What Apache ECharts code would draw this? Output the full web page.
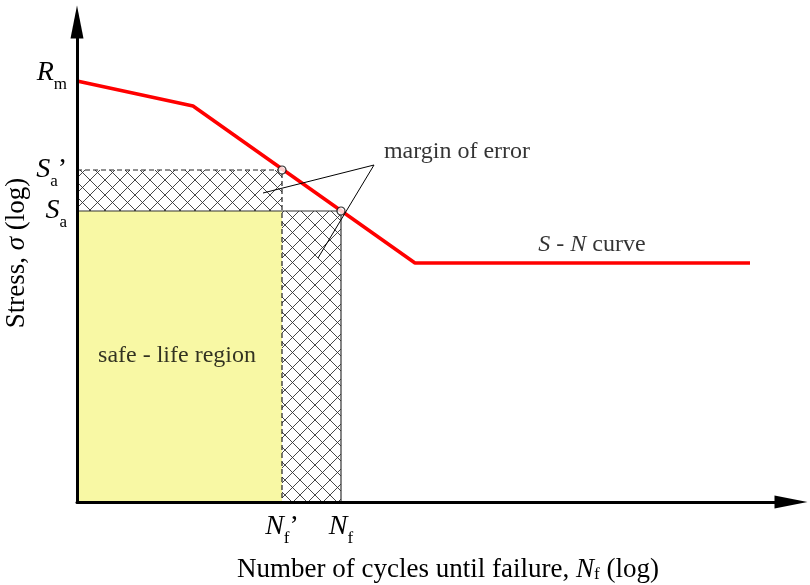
<!DOCTYPE html>
<html>
<head>
<meta charset="utf-8">
<script src="https://cdn.jsdelivr.net/npm/echarts@6/dist/echarts.min.js"></script>
<style>
  html, body { margin: 0; padding: 0; background: #fff; }
  #chart { width: 810px; height: 585px; }
</style>
</head>
<body>
<div id="chart"></div>
<script>
// schematic units, origin at the corner of the axes (log N, log S)
var curveX = [0, 116, 338, 673];
var curveY = [421, 396, 239, 239];
var rm = 421;
var saPrime = 332, sa = 291;
var nfPrime = 205, nf = 264;
var leaderX = [186, 297, 241];
var leaderY = [309, 337, 244];
var noteText = ['margin of error', '{i|S} - {i|N} curve', 'safe - life region'];
var noteX = [380, 515, 100];
var noteY = [350, 257, 146];

var serif = 'Liberation Serif';
var chart = echarts.init(document.getElementById('chart'));

// cross hatch tile
var hatch = document.createElement('canvas');
hatch.width = hatch.height = 15;
var hc = hatch.getContext('2d');
hc.fillStyle = '#fff';
hc.fillRect(0, 0, 15, 15);
hc.strokeStyle = '#333';
hc.lineWidth = 0.9;
hc.beginPath();
hc.moveTo(-1, -1); hc.lineTo(16, 16);
hc.moveTo(16, -1); hc.lineTo(-1, 16);
hc.stroke();

var regions = [
  [0, 0, nfPrime, sa, 0],
  [0, sa, nfPrime, saPrime, 1],
  [nfPrime, 0, nf, sa, 1]
];

var tickRich = {
  m: {fontFamily: serif, fontStyle: 'italic', fontSize: 28, color: '#000', lineHeight: 40},
  s: {fontFamily: serif, fontSize: 17, color: '#000', verticalAlign: 'bottom'},
  p: {fontFamily: serif, fontSize: 28, color: '#000', lineHeight: 40},
  sp: {fontSize: 10, lineHeight: 16}
};
var nameRich = {
  a: {fontFamily: serif, fontSize: 27, color: '#000'},
  i: {fontFamily: serif, fontStyle: 'italic', fontSize: 27, color: '#000'},
  s: {fontFamily: serif, fontSize: 17, color: '#000', verticalAlign: 'bottom'}
};

chart.setOption({
  animation: false,
  grid: {left: 77, right: 19, top: 22, bottom: 83, outerBoundsMode: 'none', containLabel: false},
  xAxis: {
    type: 'value', min: 0, max: 714, z: 10,
    name: '{a|Number of cycles until failure, }{i|N}{s|f}{a| (log)}',
    nameLocation: 'middle', nameGap: 54, nameMoveOverlap: false,
    nameTextStyle: {rich: nameRich, padding: [0, 0, 0, 28]},
    axisLine: {lineStyle: {color: '#000', width: 3}, symbol: ['none', 'triangle'], symbolSize: [13, 33]},
    axisTick: {show: false},
    splitLine: {show: false},
    axisLabel: {
      customValues: [nfPrime, nf], margin: 5, rich: tickRich, hideOverlap: false,
      formatter: function (v) { return v === nfPrime ? '{m|N}{s|f}{p|’}' : '{m|N}{s|f}'; }
    }
  },
  yAxis: {
    type: 'value', min: 0, max: 480, z: 10,
    name: '{a|Stress, }{i|σ}{a| (log)}',
    nameLocation: 'middle', nameGap: 47, nameMoveOverlap: false,
    nameTextStyle: {rich: nameRich, padding: [0, 0, 0, 18]},
    axisLine: {lineStyle: {color: '#000', width: 3}, symbol: ['none', 'triangle'], symbolSize: [13, 33]},
    axisTick: {show: false},
    splitLine: {show: false},
    axisLabel: {
      customValues: [sa, saPrime, rm], margin: 10, rich: tickRich, hideOverlap: false,
      formatter: function (v) {
        if (v === rm) return '{m|R}{s|m}\n{sp| }';
        if (v === saPrime) return '{m|S}{s|a}{p|’}';
        return '{m|S}{s|a}';
      }
    }
  },
  series: [
    {
      type: 'custom', z: 1,
      data: regions,
      renderItem: function (params, api) {
        var p0 = api.coord([api.value(0), api.value(1)]);
        var p1 = api.coord([api.value(2), api.value(3)]);
        return {
          type: 'rect',
          shape: {x: p0[0], y: p1[1], width: p1[0] - p0[0], height: p0[1] - p1[1]},
          style: {fill: api.value(4) === 0 ? '#f8f8a4' : {image: hatch, repeat: 'repeat'}}
        };
      }
    },
    {
      type: 'line', z: 3, symbol: 'none',
      data: [[0, saPrime], [nfPrime, saPrime], [nfPrime, 0]],
      lineStyle: {color: '#222', width: 1.2, type: [5, 3]}
    },
    {
      type: 'line', z: 3, symbol: 'none',
      data: [[0, sa], [nf, sa], [nf, 0]],
      lineStyle: {color: '#333', width: 1.2}
    },
    {
      type: 'line', z: 4, symbol: 'none',
      data: curveX.map(function (x, i) { return [x, curveY[i]]; }),
      lineStyle: {color: '#ff0000', width: 3.5}
    },
    {
      type: 'line', z: 5, symbol: 'none',
      data: leaderX.map(function (x, i) { return [x, leaderY[i]]; }),
      lineStyle: {color: '#000', width: 1}
    },
    {
      type: 'scatter', z: 6, symbol: 'circle', symbolSize: 8,
      data: [[nfPrime, saPrime], [nf, sa]],
      itemStyle: {color: '#fff', borderColor: '#000', borderWidth: 1.2}
    },
    {
      type: 'scatter', z: 7, symbolSize: 0,
      data: noteX.map(function (x, i) { return {value: [x, noteY[i]], name: noteText[i]}; }),
      label: {
        show: true, position: 'inside', color: '#000', textBorderWidth: 0,
        formatter: function (p) { return '{a|' + p.name.replace(/\{i\|(\w)\}/g, '}{i|$1}{a|') + '}'; },
        rich: {
          a: {fontFamily: serif, fontSize: 24, color: '#000', textBorderWidth: 0},
          i: {fontFamily: serif, fontStyle: 'italic', fontSize: 24, color: '#000', textBorderWidth: 0}
        }
      }
    }
  ]
});
</script>
</body>
</html>
